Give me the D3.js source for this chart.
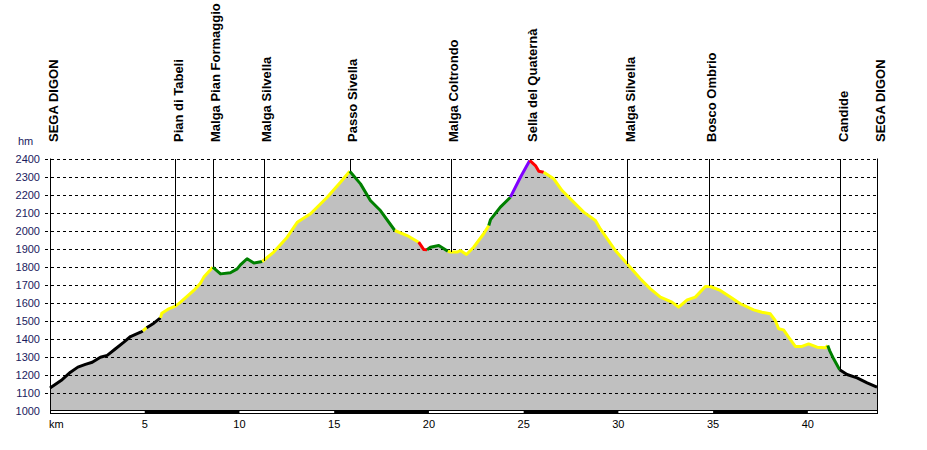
<!DOCTYPE html>
<html>
<head>
<meta charset="utf-8">
<script src="https://cdn.jsdelivr.net/npm/d3@7"></script>
<style>
  body { margin: 0; background: #fff; }
  text { font-family: Arial, "Liberation Sans", sans-serif; }
</style>
</head>
<body>
<div id="container"></div>
<script>
/* CONSTANTS AND GLOBALS */
const width = 927,
  height = 450,
  margin = {top: 158.5, bottom: 40, left: 50, right: 50};

// profile: km, altitude (m) and track kind of the stretch starting at that point
const kms = [0, 0.64, 1.08, 1.47, 1.87, 2.23, 2.66, 3.02, 3.46, 3.90, 4.25, 4.78, 4.90, 5.10, 5.48, 5.83,
  5.90, 6.27, 6.62, 6.89, 7.59, 7.94, 8.12, 8.59,
  9.00, 9.52, 9.88, 10.05, 10.40, 10.76, 11.20,
  11.81, 12.52, 13.05, 13.75, 14.63, 15.33, 15.82,
  16.39, 16.91, 17.44, 18.20,
  18.85, 19.46, 19.73, 19.90,
  20.08, 20.52, 21.00,
  21.15, 21.49, 21.66, 21.98, 22.36, 22.89, 23.16,
  23.25, 23.77, 24.30, 24.83, 25.32, 25.62, 25.80, 26.06,
  26.59, 27.03, 27.47, 28.17, 28.79, 29.05, 29.84, 30.46, 31.16, 31.69, 32.22, 32.83, 33.18,
  33.63, 34.06, 34.59, 34.85, 35.38, 35.91, 36.44, 37.14, 37.58, 38.02, 38.28, 38.46, 38.72,
  38.99, 39.34, 39.69, 40.04, 40.49, 40.92, 41.05,
  41.15, 41.36, 41.68, 42.07, 42.60, 43.13, 43.65];
const alts = [1125, 1171, 1213, 1241, 1256, 1268, 1296, 1306, 1343, 1380, 1411, 1435, 1442, 1460, 1485, 1515,
  1540, 1565, 1580, 1602, 1667, 1707, 1741, 1796,
  1759, 1765, 1787, 1809, 1843, 1819, 1828,
  1880, 1963, 2046, 2093, 2185, 2268, 2329,
  2259, 2167, 2111, 2000,
  1972, 1935, 1894, 1893,
  1907, 1917, 1885,
  1880, 1880, 1889, 1867, 1907, 1982, 2028,
  2060, 2130, 2185, 2296, 2389, 2361, 2329, 2324,
  2287, 2222, 2176, 2102, 2056, 2009, 1889, 1815, 1732, 1676, 1630, 1602, 1574,
  1615, 1630, 1689, 1689, 1667, 1630, 1593, 1559, 1546, 1537, 1500, 1454, 1448,
  1407, 1356, 1356, 1370, 1352, 1348, 1361,
  1333, 1287, 1226, 1200, 1181, 1154, 1130];
const kinds = ["road","road","road","road","road","road","road","road","road","road","road","road","path","road","road","path",
  "path","path","path","path","path","path","path","trail",
  "trail","trail","trail","trail","trail","trail","path",
  "path","path","path","path","path","path","trail",
  "trail","trail","trail","path",
  "path","hard","hard","trail",
  "trail","trail","path",
  "path","path","path","path","path","path","trail",
  "trail","trail","expert","expert","hard","hard","hard","path",
  "path","path","path","path","path","path","path","path","path","path","path","path","path",
  "path","path","path","path","path","path","path","path","path","path","path","path","path",
  "path","path","path","path","path","path","trail",
  "trail","trail","road","road","road","road","road"];
const kindColors = {road: "#000000", path: "#ffff00", trail: "#008000", hard: "#ff0000", expert: "#8000ff"};

// waypoints
const wpNames = ["SEGA DIGON", "Pian di Tabeli", "Malga Pian Formaggio", "Malga Silvella", "Passo Sivella",
  "Malga Coltrondo", "Sella del Quaternà", "Malga Silvella", "Bosco Ombrio", "Candide", "SEGA DIGON"];
const wpKm = [0, 6.62, 8.59, 11.28, 15.82, 21.15, 25.32, 30.46, 34.76, 41.70, 43.65];
const wpAlt = [1125, 1580, 1796, 1828, 2329, 1880, 2389, 1815, 1689, 1226, 1130];

// axes
const altTicks = [1000, 1100, 1200, 1300, 1400, 1500, 1600, 1700, 1800, 1900, 2000, 2100, 2200, 2300, 2400];
const kmTicks = [5, 10, 15, 20, 25, 30, 35, 40];
const kmBands = [[5, 10], [15, 20], [25, 30], [35, 40]];

const profile = kms.map((k, i) => ({km: k, alt: alts[i], kind: kinds[i]}));

// SCALES
const xScale = d3.scaleLinear()
  .domain([0, 43.65])
  .range([margin.left, width - margin.right]);

const yScale = d3.scaleLinear()
  .domain([1000, 2400])
  .range([410.5, margin.top]);

// CREATE SVG ELEMENT
const svg = d3.select("#container").append("svg")
  .attr("width", width)
  .attr("height", height)
  .style("background-color", "white");

// AREA
const area = d3.area()
  .x(d => xScale(d.km))
  .y0(yScale(1000))
  .y1(d => yScale(d.alt));

svg.append("path")
  .datum(profile)
  .attr("d", area)
  .attr("fill", "#c0c0c0");

// GRID
svg.append("g")
  .selectAll("line")
  .data(altTicks.slice(1))
  .join("line")
  .attr("x1", margin.left - 5)
  .attr("x2", xScale(43.65))
  .attr("y1", d => Math.round(yScale(d)) + 0.5)
  .attr("y2", d => Math.round(yScale(d)) + 0.5)
  .attr("stroke", "black")
  .attr("stroke-dasharray", "3,3")
  .attr("shape-rendering", "crispEdges");

svg.append("g")
  .selectAll("text")
  .data(altTicks)
  .join("text")
  .attr("x", 40)
  .attr("y", d => yScale(d) + 4)
  .attr("text-anchor", "end")
  .attr("font-size", 11)
  .attr("fill", "#1a1a5e")
  .text(d => d);

svg.append("text")
  .attr("x", 18)
  .attr("y", 145)
  .attr("font-size", 11)
  .attr("fill", "#1a1a5e")
  .text("hm");

// DRAW LINE (split by track kind)
const line = d3.line()
  .x(d => xScale(d.km))
  .y(d => yScale(d.alt));

const segs = [];
for (let i = 0; i < profile.length - 1; i++) {
  const last = segs[segs.length - 1];
  if (last && last.kind === profile[i].kind) last.pts.push(profile[i + 1]);
  else segs.push({kind: profile[i].kind, pts: [profile[i], profile[i + 1]]});
}

svg.append("g")
  .selectAll("path")
  .data(segs)
  .join("path")
  .attr("d", d => line(d.pts))
  .attr("fill", "none")
  .attr("stroke", d => kindColors[d.kind])
  .attr("stroke-width", 3)
  .attr("stroke-linejoin", "round");

// WAYPOINTS
svg.append("g")
  .selectAll("line")
  .data(wpKm)
  .join("line")
  .attr("x1", d => Math.round(xScale(d)) + 0.5)
  .attr("x2", d => Math.round(xScale(d)) + 0.5)
  .attr("y1", margin.top)
  .attr("y2", (d, i) => yScale(wpAlt[i]))
  .attr("stroke", "black")
  .attr("shape-rendering", "crispEdges");

svg.append("g")
  .selectAll("text")
  .data(wpNames)
  .join("text")
  .attr("transform", (d, i) => `translate(${xScale(wpKm[i]) + 7.5},142) rotate(-90)`)
  .attr("font-size", 13)
  .attr("font-weight", "bold")
  .attr("fill", "black")
  .text(d => d);

// FRAME
svg.append("line")
  .attr("x1", margin.left + 0.5).attr("x2", margin.left + 0.5)
  .attr("y1", margin.top).attr("y2", 414)
  .attr("stroke", "black");
svg.append("line")
  .attr("x1", Math.round(xScale(43.65)) + 0.5).attr("x2", Math.round(xScale(43.65)) + 0.5)
  .attr("y1", margin.top).attr("y2", 414)
  .attr("stroke", "black");

// KM BAR
svg.append("rect")
  .attr("x", margin.left + 0.5)
  .attr("y", 410.5)
  .attr("width", Math.round(xScale(43.65)) - margin.left)
  .attr("height", 3)
  .attr("fill", "white")
  .attr("stroke", "black");

svg.append("g")
  .selectAll("rect")
  .data(kmBands)
  .join("rect")
  .attr("x", d => xScale(d[0]))
  .attr("y", 410)
  .attr("width", d => xScale(d[1]) - xScale(d[0]))
  .attr("height", 4)
  .attr("fill", "black");

svg.append("g")
  .selectAll("text")
  .data(kmTicks)
  .join("text")
  .attr("x", d => xScale(d))
  .attr("y", 428)
  .attr("text-anchor", "middle")
  .attr("font-size", 11)
  .attr("fill", "black")
  .text(d => d);

svg.append("text")
  .attr("x", 49)
  .attr("y", 428)
  .attr("font-size", 11)
  .attr("fill", "black")
  .text("km");
</script>
</body>
</html>
